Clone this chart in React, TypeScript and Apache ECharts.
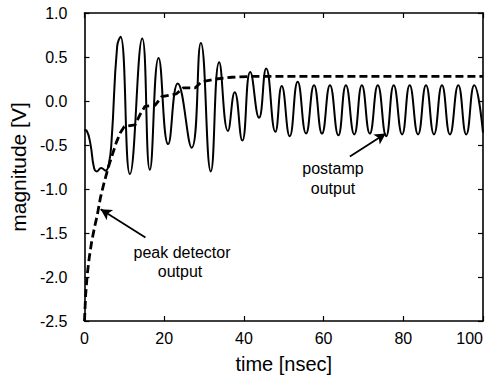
import React, { useEffect, useRef } from "react";
import * as echarts from "echarts";

// postamp output (solid), read at peaks / troughs
const solidT = [0, 0.6, 1.5, 2.4, 3.1, 4.2, 5.3, 6.1, 6.8, 8.2, 9.05, 11.4, 14.5, 16.4, 18.6, 21.0, 23.4, 26.9, 29.2, 31.7, 33.8, 36.0, 37.7, 39.6, 41.6, 43.8, 45.6, 47.9, 49.5, 51.5, 53.5, 55.6, 57.6, 59.6, 61.6, 63.7, 65.6, 67.7, 69.6, 71.6, 73.6, 75.7, 77.6, 79.7, 81.6, 83.7, 85.7, 87.7, 89.7, 91.7, 93.8, 95.8, 97.8, 100];
const solidV = [-0.33, -0.34, -0.49, -0.76, -0.80, -0.76, -0.79, -0.72, -0.45, 0.62, 0.73, -0.83, 0.71, -0.78, 0.49, -0.49, 0.20, -0.53, 0.66, -0.80, 0.44, -0.34, 0.10, -0.45, 0.33, -0.19, 0.37, -0.35, 0.17, -0.40, 0.22, -0.37, 0.18, -0.37, 0.18, -0.39, 0.18, -0.38, 0.18, -0.37, 0.18, -0.40, 0.18, -0.38, 0.18, -0.38, 0.18, -0.38, 0.18, -0.38, 0.18, -0.38, 0.18, -0.36];

// peak detector output (dashed)
const dashT = [0, 0.3, 0.7, 1.2, 1.8, 2.5, 3.2, 4.0, 4.8, 6.0, 7.0, 8.0, 9.0, 10.0, 12.7, 14.0, 15.2, 17.7, 19.4, 23.0, 24.8, 27.8, 29.4, 33, 37, 42, 100];
const dashV = [-2.5, -2.2, -1.97, -1.78, -1.6, -1.44, -1.3, -1.1, -0.95, -0.75, -0.61, -0.47, -0.36, -0.29, -0.27, -0.15, -0.06, -0.05, 0.05, 0.08, 0.15, 0.15, 0.22, 0.25, 0.27, 0.28, 0.28];

const FONT = "Liberation Sans";

export default function App() {
  const ref = useRef<HTMLDivElement>(null);
  useEffect(() => {
    const chart = echarts.init(ref.current!, null, { renderer: "svg" });
    const solid = solidT.map((t, i) => [t, solidV[i]]);
    const dash = dashT.map((t, i) => [t, dashV[i]]);
    const axisCommon = {
      axisLine: { show: true, onZero: false, lineStyle: { color: "#000", width: 1.6 } },
      axisTick: { show: true, inside: true, length: 5, lineStyle: { color: "#000", width: 1.2 } },
      splitLine: { show: false },
    };
    chart.setOption({
      animation: false,
      backgroundColor: "#fff",
      grid: { left: 82, right: 15, top: 13, bottom: 57 },
      xAxis: [
        {
          type: "value", min: 0, max: 100, interval: 20, position: "bottom",
          ...axisCommon,
          axisLabel: { color: "#000", fontFamily: FONT, fontSize: 16, margin: 9, alignMaxLabel: "right" },
          name: "time [nsec]", nameLocation: "middle", nameGap: 33,
          nameTextStyle: { color: "#000", fontFamily: FONT, fontSize: 20 },
        },
        { type: "value", min: 0, max: 100, interval: 20, position: "top", ...axisCommon, axisLabel: { show: false } },
      ],
      yAxis: [
        {
          type: "value", min: -2.5, max: 1.0, interval: 0.5, position: "left",
          ...axisCommon,
          axisLabel: { color: "#000", fontFamily: FONT, fontSize: 16, margin: 17, formatter: (v: number) => v.toFixed(1) },
          name: "magnitude [V]", nameLocation: "middle", nameGap: 50,
          nameTextStyle: { color: "#000", fontFamily: FONT, fontSize: 21 },
        },
        { type: "value", min: -2.5, max: 1.0, interval: 0.5, position: "right", ...axisCommon, axisLabel: { show: false } },
      ],
      series: [
        {
          type: "line", data: solid, smooth: 0.5, symbol: "none",
          lineStyle: { color: "#000", width: 2 },
          markLine: {
            silent: true, symbol: ["none", "arrow"], symbolSize: [9, 11],
            label: { show: false },
            lineStyle: { color: "#000", width: 1.8, type: "solid" },
            data: [
              [{ coord: [66.6, -0.63] }, { coord: [75.6, -0.37] }],
              [{ coord: [15.3, -1.55] }, { coord: [4.06, -1.23] }],
            ],
          },
        },
        {
          type: "line", data: dash, smooth: false, symbol: "none",
          lineStyle: { color: "#000", width: 2.8, type: [8, 4] },
        },
      ],
      graphic: [
        { type: "text", x: 333, y: 168, style: { text: "postamp", fontFamily: FONT, fontSize: 16, fill: "#000", align: "center", verticalAlign: "middle" } },
        { type: "text", x: 333, y: 188, style: { text: "output", fontFamily: FONT, fontSize: 16, fill: "#000", align: "center", verticalAlign: "middle" } },
        { type: "text", x: 182, y: 252, style: { text: "peak detector", fontFamily: FONT, fontSize: 16, fill: "#000", align: "center", verticalAlign: "middle" } },
        { type: "text", x: 180, y: 271, style: { text: "output", fontFamily: FONT, fontSize: 16, fill: "#000", align: "center", verticalAlign: "middle" } },
      ],
    });
    return () => chart.dispose();
  }, []);
  return <div ref={ref} style={{ position: "fixed", left: 0, top: 0, width: 498, height: 379 }} />;
}
